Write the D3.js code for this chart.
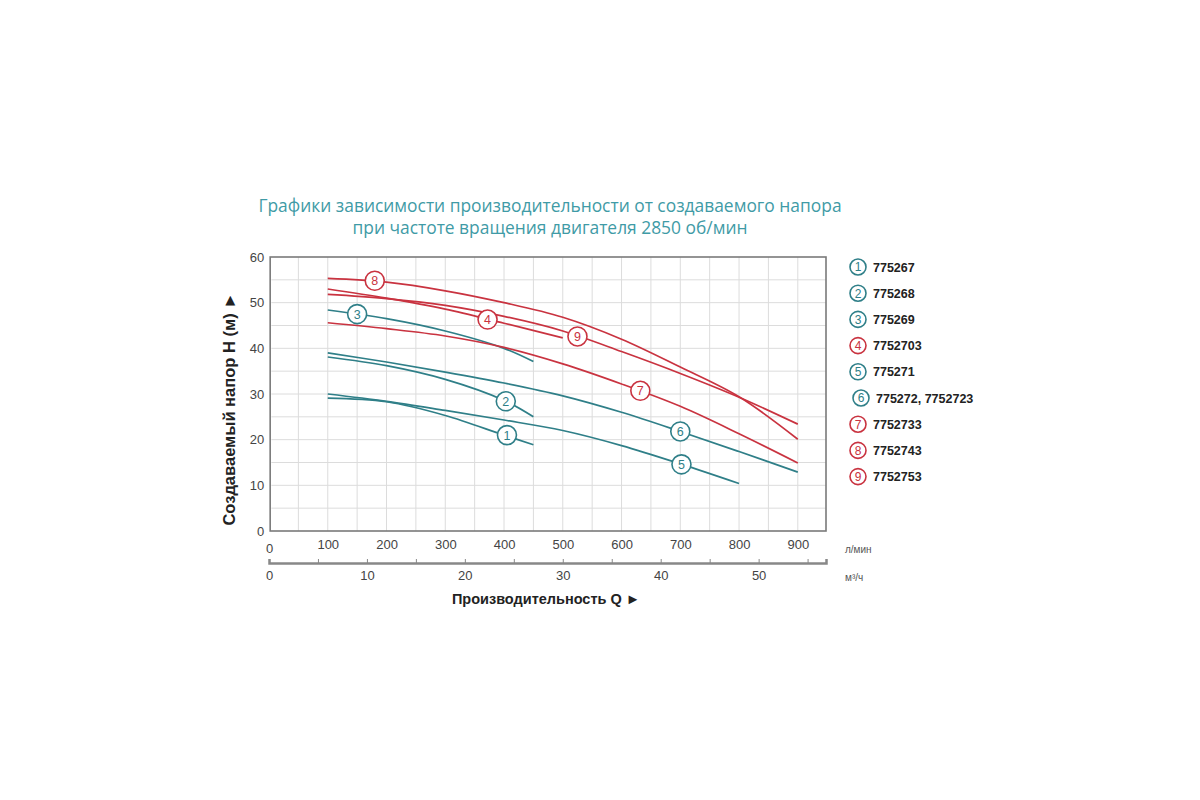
<!DOCTYPE html>
<html lang="ru">
<head>
<meta charset="utf-8">
<title>Напорные характеристики</title>
<script src="https://cdn.jsdelivr.net/npm/d3@7"></script>
<style>
  body { margin: 0; background: #fff; }
  text { font-family: "Liberation Sans", Arial, sans-serif; }
  .title { font-family: "Open Sans", sans-serif; fill: #3f9ba6; font-size: 17.4px; }
  .grid line { stroke: #dcdcdc; stroke-width: 1; }
  .tick text { fill: #444; font-size: 13px; }
</style>
</head>
<body>
<script>
// curve data: flow Q (l/min), head H (m)
var qPoints = [100, 200, 300, 400, 450];
var h1 = [29.1, 28.3, 25.3, 21.0, 18.9];
var h2 = [38.1, 36.2, 33.2, 28.6, 25.0];
var h3 = [48.4, 46.5, 43.8, 40.0, 37.1];

var q4 = [100, 200, 300, 400, 500];
var h4 = [53.0, 51.0, 48.6, 45.5, 42.3];

var q5 = [100, 200, 300, 400, 500, 600, 700, 800];
var h5 = [30.0, 28.4, 26.4, 24.3, 22.0, 18.7, 14.7, 10.4];

var qLong = [100, 200, 300, 400, 500, 600, 700, 800, 900];
var h6 = [39.0, 37.0, 34.8, 32.4, 29.6, 26.0, 21.8, 17.4, 12.9];
var h7 = [45.6, 44.3, 42.7, 40.2, 36.6, 32.2, 27.3, 21.3, 14.9];
var h8 = [55.3, 54.5, 52.6, 50.0, 46.8, 42.0, 35.9, 29.4, 20.1];
var h9 = [51.8, 50.9, 49.4, 47.0, 43.8, 39.3, 34.5, 29.3, 23.4];

// label positions on curves [Q, H]
var curveLabels = [
  [405, 21.0], [403, 28.4], [150, 47.5], [372, 46.3], [702, 14.6],
  [700, 21.8], [632, 30.7], [180, 54.8], [525, 42.6]
];

var legendNames = ["775267", "775268", "775269", "7752703", "775271",
  "775272, 7752723", "7752733", "7752743", "7752753"];

var flowTicks = [0, 100, 200, 300, 400, 500, 600, 700, 800, 900];
var headTicks = [0, 10, 20, 30, 40, 50, 60];

var teal = "#2f7f88";
var red = "#c93340";

var series = [
  { q: qPoints, h: h1, c: teal },
  { q: qPoints, h: h2, c: teal },
  { q: qPoints, h: h3, c: teal },
  { q: q4, h: h4, c: red },
  { q: q5, h: h5, c: teal },
  { q: qLong, h: h6, c: teal },
  { q: qLong, h: h7, c: red },
  { q: qLong, h: h8, c: red },
  { q: qLong, h: h9, c: red }
];

var w = 1200, h = 800;
var svg = d3.select("body").append("svg")
  .attr("width", w)
  .attr("height", h);

var x = d3.scaleLinear().domain([0, 948]).range([269, 826]);
var xm = d3.scaleLinear().domain([0, 948 * 0.06]).range([269, 826]);
var y = d3.scaleLinear().domain([0, 60]).range([531, 257]);

// title
svg.append("text").attr("class", "title")
  .attr("x", 550).attr("y", 212).attr("text-anchor", "middle")
  .text("Графики зависимости производительности от создаваемого напора");
svg.append("text").attr("class", "title")
  .attr("x", 550).attr("y", 234).attr("text-anchor", "middle")
  .text("при частоте вращения двигателя 2850 об/мин");

// grid
var grid = svg.append("g").attr("class", "grid");
grid.selectAll(".gv")
  .data(d3.range(50, 948, 50))
  .enter().append("line")
  .attr("x1", function(d) { return x(d); })
  .attr("x2", function(d) { return x(d); })
  .attr("y1", y(60)).attr("y2", y(0));
grid.selectAll(".gh")
  .data(d3.range(5, 60, 5))
  .enter().append("line")
  .attr("x1", x(4)).attr("x2", x(948))
  .attr("y1", function(d) { return y(d); })
  .attr("y2", function(d) { return y(d); });

// frame
svg.append("rect")
  .attr("x", x(2)).attr("y", y(60))
  .attr("width", x(948) - x(2)).attr("height", y(0) - y(60))
  .attr("fill", "none").attr("stroke", "#7a7a7a").attr("stroke-width", 1.6);

// y axis
var yAxis = svg.append("g")
  .attr("transform", "translate(" + (x(2) - 4) + ",0)")
  .call(d3.axisLeft(y).tickValues(headTicks).tickSize(0).tickPadding(2));
yAxis.select(".domain").remove();

svg.append("text")
  .attr("transform", "translate(235,409) rotate(-90)")
  .attr("text-anchor", "middle")
  .style("font-size", "16.5px").style("font-weight", "bold").style("fill", "#222")
  .text("Создаваемый напор H (м) ►");

// flow axis l/min
var xAxis = svg.append("g")
  .attr("transform", "translate(0," + (y(0) + 6) + ")")
  .call(d3.axisBottom(x).tickValues(flowTicks).tickSize(0).tickPadding(2));
xAxis.select(".domain").remove();
xAxis.selectAll(".tick text")
  .attr("dy", function(d) { return d === 0 ? "1.05em" : "0.75em"; });

svg.append("text")
  .attr("x", 845).attr("y", 553)
  .style("font-size", "10px").style("fill", "#555")
  .text("л/мин");

// flow axis m3/h
var mAxis = svg.append("g")
  .attr("transform", "translate(0,563)")
  .call(d3.axisBottom(xm).tickValues(d3.range(0, 57, 5)).tickSize(-4).tickFormat(function(d) {
    return d % 10 === 0 ? d : "";
  }).tickPadding(8));
mAxis.select(".domain").attr("stroke", "#888").attr("stroke-width", 2.5);
mAxis.selectAll(".tick line").attr("stroke", "#888");

svg.append("text")
  .attr("x", 845).attr("y", 581)
  .style("font-size", "10px").style("fill", "#555")
  .text("м³/ч");

svg.append("text")
  .attr("x", 546).attr("y", 604).attr("text-anchor", "middle")
  .style("font-size", "14.5px").style("font-weight", "bold").style("fill", "#222")
  .text("Производительность Q ►");

// curves
var line = d3.line()
  .x(function(d) { return x(d[0]); })
  .y(function(d) { return y(d[1]); })
  .curve(d3.curveCatmullRom.alpha(0.5));

svg.append("g").selectAll("path")
  .data(series)
  .enter().append("path")
  .attr("d", function(s) { return line(d3.zip(s.q, s.h)); })
  .attr("fill", "none")
  .attr("stroke", function(s) { return s.c; })
  .attr("stroke-width", 1.7);

// numbered markers on curves
var marks = svg.append("g").selectAll("g")
  .data(curveLabels)
  .enter().append("g")
  .attr("transform", function(d) { return "translate(" + x(d[0]) + "," + y(d[1]) + ")"; });
marks.append("circle")
  .attr("r", 9.5)
  .attr("fill", "#fff")
  .attr("stroke", function(d, i) { return series[i].c; })
  .attr("stroke-width", 1.6);
marks.append("text")
  .attr("text-anchor", "middle").attr("dy", "0.36em")
  .style("font-size", "12.5px")
  .style("fill", function(d, i) { return series[i].c; })
  .text(function(d, i) { return i + 1; });

// legend
var legend = svg.append("g").selectAll("g")
  .data(legendNames)
  .enter().append("g")
  .attr("transform", function(d, i) {
    return "translate(" + (i === 5 ? 861 : 858) + "," + (267 + i * 26.2) + ")";
  });
legend.append("circle")
  .attr("r", 8)
  .attr("fill", "#fff")
  .attr("stroke", function(d, i) { return series[i].c; })
  .attr("stroke-width", 1.6);
legend.append("text")
  .attr("text-anchor", "middle").attr("dy", "0.36em")
  .style("font-size", "12px")
  .style("fill", function(d, i) { return series[i].c; })
  .text(function(d, i) { return i + 1; });
legend.append("text")
  .attr("x", 15).attr("dy", "0.36em")
  .style("font-size", "12.5px").style("font-weight", "bold").style("fill", "#222")
  .text(function(d) { return d; });
</script>
</body>
</html>
